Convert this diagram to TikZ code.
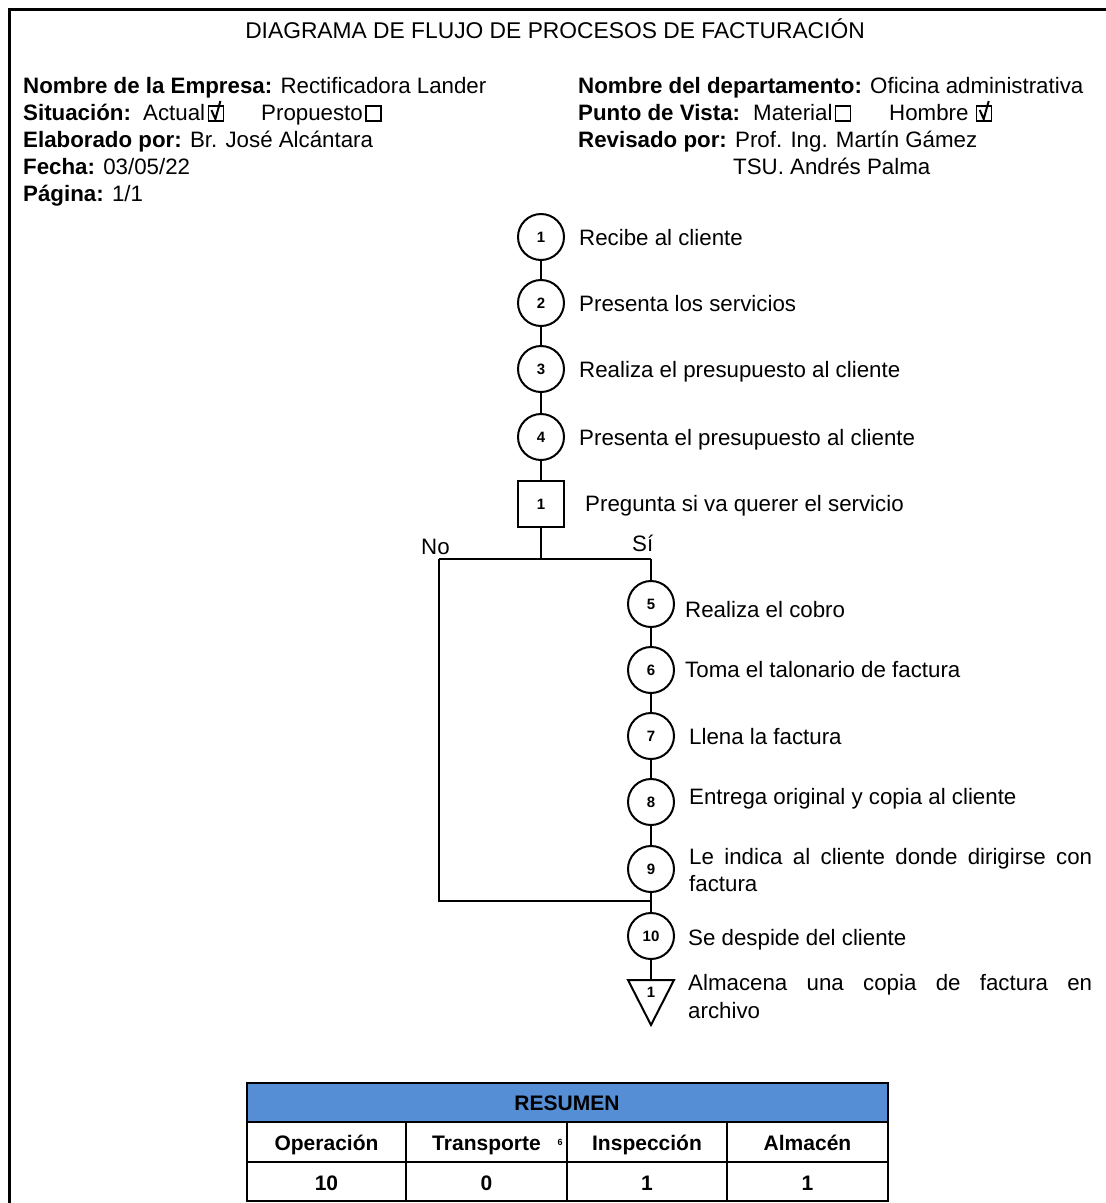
\documentclass[tikz,border=0pt]{standalone}
\usepackage{fontspec}
\setmainfont{Liberation Sans}
\definecolor{headblue}{RGB}{85,142,213}
\begin{document}
\begin{tikzpicture}[x=1pt,y=-1pt,
  txt/.style={anchor=base west, inner sep=0pt, font=\fontsize{22.3}{26}\selectfont},
  bold/.style={txt, font=\bfseries\fontsize{22.3}{26}\selectfont},
  op/.style={circle, draw, line width=2pt, minimum size=46pt, inner sep=0pt,
    font=\bfseries\fontsize{15}{15}\selectfont},
  insp/.style={rectangle, draw, line width=2pt, minimum size=46pt, inner sep=0pt,
    font=\bfseries\fontsize{15}{15}\selectfont},
  link/.style={line width=2pt},
  cell/.style={anchor=base, inner sep=0pt, font=\bfseries\fontsize{21}{24}\selectfont},
  grid/.style={line width=2.5pt},
  ticked/.pic={
    \draw[line width=1.3pt] (0,1) rectangle (15,-14);
    \draw[line width=2pt] (3,-10) -- (7,-1) -- (12,-19);
  },
  unticked/.pic={
    \draw[line width=1.3pt] (0,1) rectangle (15,-14);
  }
]
\useasboundingbox (0,0) rectangle (1106,1203);
\fill[white] (0,0) rectangle (1106,1203);

% frame (left and top edges)
\draw[line width=3pt] (9,1203) -- (9,9) -- (1106,9);

% title
\node[anchor=base, inner sep=0pt, font=\fontsize{22.8}{26}\selectfont] (title) at (555,38)
  {DIAGRAMA DE FLUJO DE PROCESOS DE FACTURACIÓN};

% heading data, left column
\node[txt] (empresa) at (23,93) {\textbf{Nombre de la Empresa:} Rectificadora Lander};
\node[bold] (sit) at (23,120) {Situación:};
\node[txt] (actual) at (143,120) {Actual};
\pic at ([xshift=3pt]actual.base east) {ticked};
\node[txt] (prop) at (261,120) {Propuesto};
\pic at ([xshift=3pt]prop.base east) {unticked};
\node[txt] (elab) at (23,147) {\textbf{Elaborado por:} Br. José Alcántara};
\node[txt] (fecha) at (23,174) {\textbf{Fecha:} 03/05/22};
\node[txt] (pag) at (23,201) {\textbf{Página:} 1/1};

% heading data, right column
\node[txt] (depto) at (578,93) {\textbf{Nombre del departamento:} Oficina administrativa};
\node[bold] (vista) at (578,120) {Punto de Vista:};
\node[txt] (material) at (753,120) {Material};
\pic at ([xshift=3pt]material.base east) {unticked};
\node[txt] (hombre) at (889,120) {Hombre};
\pic at ([xshift=8pt]hombre.base east) {ticked};
\node[txt] (rev) at (578,147) {\textbf{Revisado por:} Prof. Ing. Martín Gámez};
\node[txt] (rev2) at (733,174) {TSU. Andrés Palma};

% main column
\node[op] (c1) at (541,237) {1};
\node[op] (c2) at (541,303) {2};
\node[op] (c3) at (541,369) {3};
\node[op] (c4) at (541,437) {4};
\node[insp] (q1) at (541,504) {1};
\node[txt] (t1) at (579,245) {Recibe al cliente};
\node[txt] (t2) at (579,311) {Presenta los servicios};
\node[txt] (t3) at (579,377) {Realiza el presupuesto al cliente};
\node[txt] (t4) at (579,445) {Presenta el presupuesto al cliente};
\node[txt] (tq) at (585,511) {Pregunta si va querer el servicio};

% branch
\coordinate (split) at (541,559);
\coordinate (noL) at (439,559);
\coordinate (siR) at (651,559);
\coordinate (noB) at (439,901);
\coordinate (join) at (651,901);
\node[txt] (no) at (421,554) {No};
\node[txt] (si) at (632,551) {Sí};

% right column
\node[op] (c5) at (651,604) {5};
\node[op] (c6) at (651,670) {6};
\node[op] (c7) at (651,736) {7};
\node[op] (c8) at (651,802) {8};
\node[op] (c9) at (651,869) {9};
\node[op] (c10) at (651,936) {10};
\coordinate (tri) at (651,980);
\draw[line width=2pt, line join=miter] (628,980) -- (674,980) -- (651,1025) -- cycle;
\node[anchor=center, inner sep=0pt, font=\bfseries\fontsize{15}{15}\selectfont] (triN) at (651,992) {1};

\node[txt] (t5) at (685,617) {Realiza el cobro};
\node[txt] (t6) at (685,677) {Toma el talonario de factura};
\node[txt] (t7) at (689,744) {Llena la factura};
\node[txt] (t8) at (689,804) {Entrega original y copia al cliente};
\node[txt] (t9) at (689,864) {\makebox[403pt][s]{Le indica al cliente donde dirigirse con}};
\node[txt] (t9b) at (689,891) {factura};
\node[txt] (t10) at (688,945) {Se despide del cliente};
\node[txt] (t11) at (688,990) {\makebox[404pt][s]{Almacena una copia de factura en}};
\node[txt] (t11b) at (688,1018) {archivo};

% connectors
\draw[link] (c1) -- (c2);
\draw[link] (c2) -- (c3);
\draw[link] (c3) -- (c4);
\draw[link] (c4) -- (q1);
\draw[link] (q1) -- (split);
\draw[link] (noL) -- (siR);
\draw[link] (siR) -- (c5);
\draw[link] (noL) -- (noB) -- (join);
\draw[link] (c5) -- (c6);
\draw[link] (c6) -- (c7);
\draw[link] (c7) -- (c8);
\draw[link] (c8) -- (c9);
\draw[link] (c9) -- (c10);
\draw[link] (c10) -- (tri);

% summary table
\fill[headblue] (247,1083) rectangle (888,1122);
\draw[grid] (247,1083) rectangle (888,1201);
\draw[grid] (247,1122) -- (888,1122);
\draw[grid] (247,1162) -- (888,1162);
\draw[grid] (406,1122) -- (406,1201);
\draw[grid] (567,1122) -- (567,1201);
\draw[grid] (727,1122) -- (727,1201);
\node[cell] (res) at (567,1110) {RESUMEN};
\node[cell] (h1) at (326.5,1150) {Operación};
\node[cell] (h2) at (486.5,1150) {Transporte};
\node[cell] (h3) at (647,1150) {Inspección};
\node[cell] (h4) at (807.5,1150) {Almacén};
\node[anchor=center, inner sep=0pt, font=\bfseries\fontsize{9}{9}\selectfont] (stray) at (560,1142) {6};
\node[cell] (v1) at (326.5,1190) {10};
\node[cell] (v2) at (486.5,1190) {0};
\node[cell] (v3) at (647,1190) {1};
\node[cell] (v4) at (807.5,1190) {1};
\end{tikzpicture}
\end{document}
